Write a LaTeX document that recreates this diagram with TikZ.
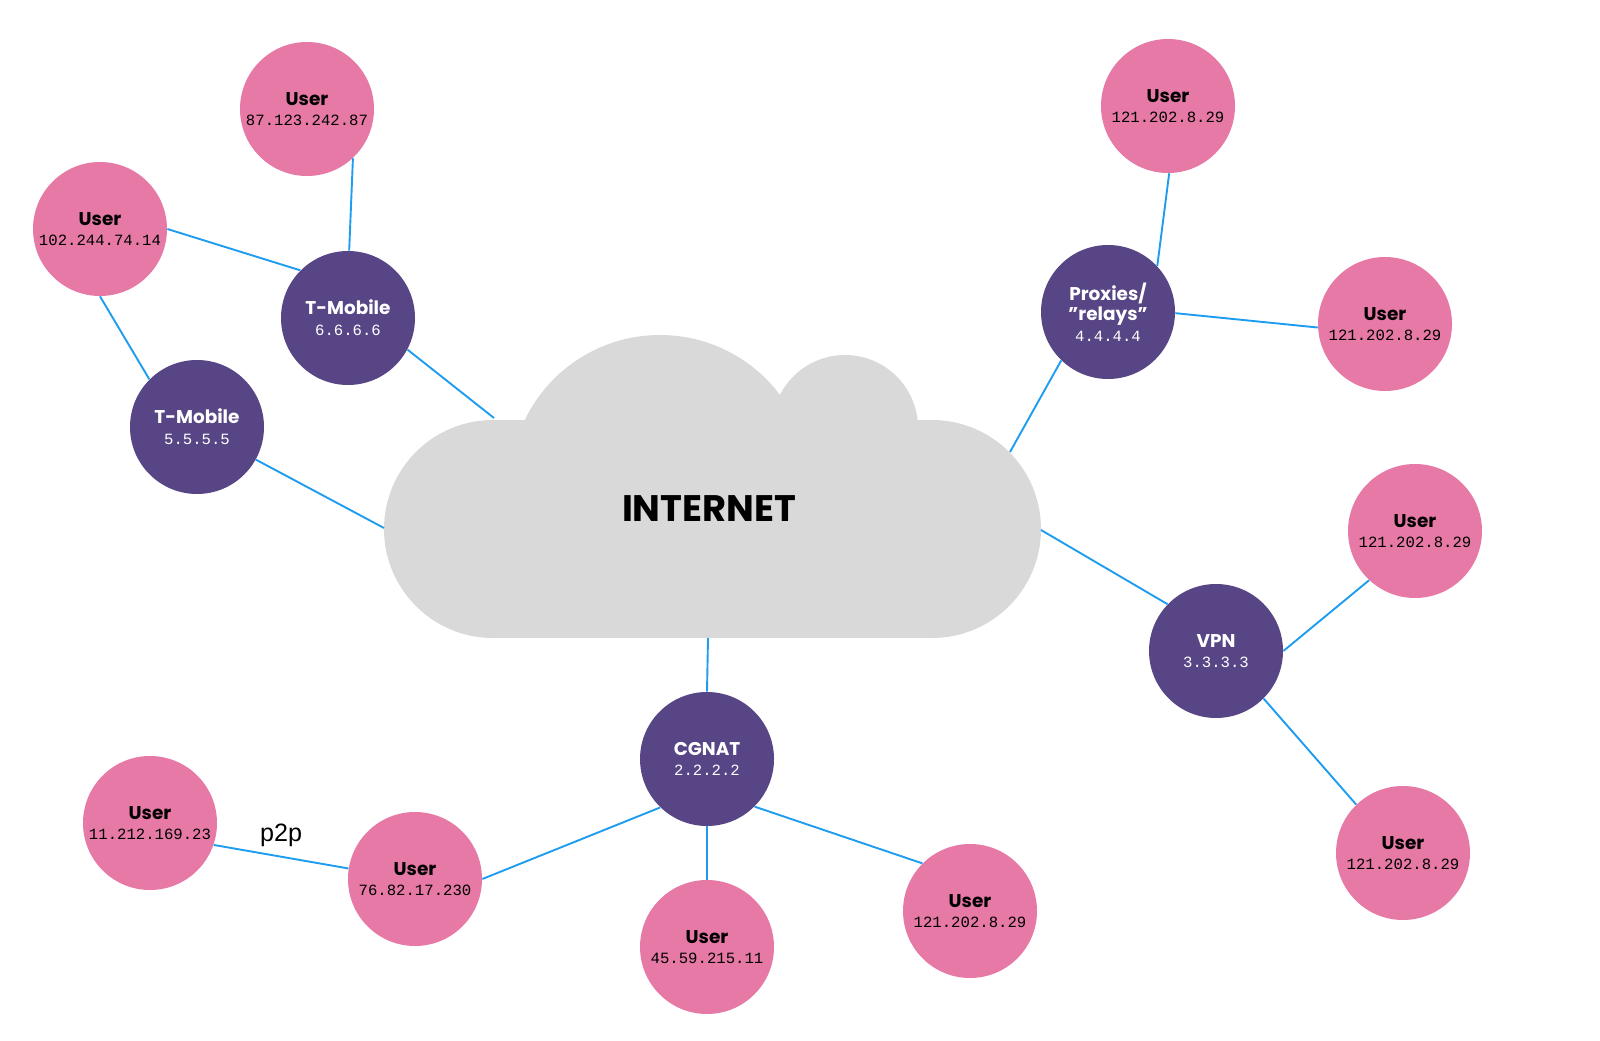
\documentclass[tikz,border=0pt]{standalone}
\usepackage{fontspec}
\setmainfont{Poppins}
\setmonofont{Liberation Mono}
\newfontfamily\ptwopfont{Liberation Sans}
\usetikzlibrary{positioning}
\definecolor{userpink}{HTML}{E679A6}
\definecolor{hubpurple}{HTML}{574585}
\definecolor{linkblue}{HTML}{1E9CF0}
\definecolor{cloudgray}{HTML}{D9D9D9}
\newcommand{\ipaddr}[1]{{\mdseries\ttfamily\fontsize{8.9}{11}\selectfont #1}}

\begin{document}
\begin{tikzpicture}[x=0.2mm,y=-0.2mm,
        user/.style={circle,fill=userpink,minimum size=26.8mm,inner sep=0pt,align=center,
            font=\bfseries\fontsize{10.5}{11.8}\selectfont},
        hub/.style={user,fill=hubpurple,text=white},
        link/.style={draw=linkblue,line width=0.38mm}]
                \useasboundingbox (0,0) rectangle (1600,1041);
                % cloud
                \fill[cloudgray] (493,420) rectangle (932,638);
                \fill[cloudgray] (493,529) circle[radius=21.8mm];
                \fill[cloudgray] (932,529) circle[radius=21.8mm];
                \fill[cloudgray] (660,485) circle[radius=30mm];
                \fill[cloudgray] (845,428) circle[radius=14.6mm];
                \node[font=\bfseries\fontsize{21}{22}\selectfont] (inet) at (709,509) {INTERNET};
                \coordinate (ctm6) at (494,418);
                \coordinate (ctm5) at (384,528);
                \coordinate (cprx) at (1010,452);
                \coordinate (cvpn) at (1041,530);
                \coordinate (ccg) at (708,638);
                % hubs
                \node[hub] (tm6) at (348,318) {T-Mobile\\\ipaddr{6.6.6.6}};
                \node[hub] (tm5) at (197,427) {T-Mobile\\\ipaddr{5.5.5.5}};
                \node[hub] (prx) at (1108,312) {Proxies/\\"relays"\\\ipaddr{4.4.4.4}};
                \node[hub] (vpn) at (1216,651) {VPN\\\ipaddr{3.3.3.3}};
                \node[hub] (cg) at (707,759) {CGNAT\\\ipaddr{2.2.2.2}};
                % users
                \node[user] (u1) at (307,109) {User\\\ipaddr{87.123.242.87}};
                \node[user] (u2) at (100,229) {User\\\ipaddr{102.244.74.14}};
                \node[user] (u3) at (1168,106) {User\\\ipaddr{121.202.8.29}};
                \node[user] (u4) at (1385,324) {User\\\ipaddr{121.202.8.29}};
                \node[user] (u5) at (1415,531) {User\\\ipaddr{121.202.8.29}};
                \node[user] (u6) at (1403,853) {User\\\ipaddr{121.202.8.29}};
                \node[user] (u7) at (150,823) {User\\\ipaddr{11.212.169.23}};
                \node[user] (u8) at (415,879) {User\\\ipaddr{76.82.17.230}};
                \node[user] (u9) at (707,947) {User\\\ipaddr{45.59.215.11}};
                \node[user] (u10) at (970,911) {User\\\ipaddr{121.202.8.29}};
                % links
                \draw[link] (u1.-47) -- (tm6.89);
                \draw[link] (u2.0) -- (tm6.135);
                \draw[link] (u2.-90) -- (tm5.135);
                \draw[link] (tm6.-28) -- (ctm6);
                \draw[link] (tm5.-29) -- (ctm5);
                \draw[link] (prx.43) -- (u3.-89);
                \draw[link] (prx.-1) -- (u4.183);
                \draw[link] (prx.-134) -- (cprx);
                \draw[link] (vpn.136) -- (cvpn);
                \draw[link] (vpn.0) -- (u5.-133);
                \draw[link] (vpn.-45) -- (u6.134);
                \draw[link] (cg.90) -- (ccg);
                \draw[link] (cg.-134) -- (u8.0);
                \draw[link] (cg.-90) -- (u9.90);
                \draw[link] (cg.-45) -- (u10.135);
                \draw[link] (u7.-19) -- node[above=2pt,font=\ptwopfont\fontsize{14.3}{15}\selectfont] (p2p) {p2p} (u8.171);
            \end{tikzpicture}
\end{document}
